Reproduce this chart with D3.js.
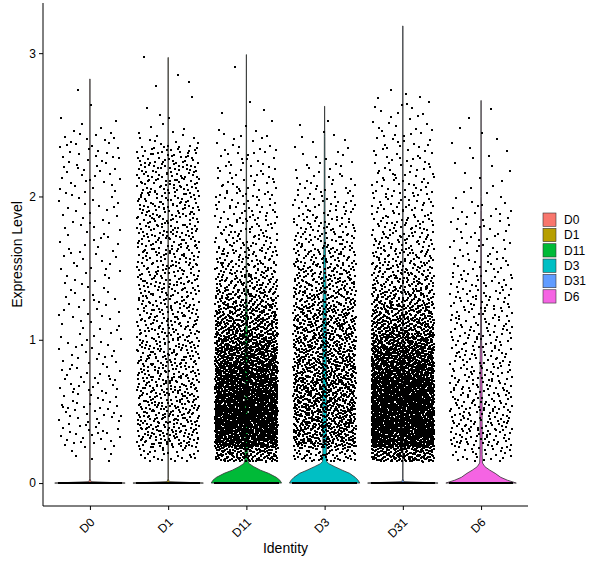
<!DOCTYPE html>
<html>
<head>
<meta charset="utf-8">
<script src="https://cdn.jsdelivr.net/npm/d3@7"></script>
<style>
  body { margin: 0; background: #fff; }
  text { font-family: "Liberation Sans", Arial, sans-serif; }
</style>
</head>
<body>
<div id="chart"></div>
<script>
// identities (clusters) in plot order
var groups = ["D0", "D1", "D11", "D3", "D31", "D6"]
var colors = ["#F8766D", "#B79F00", "#00BA38", "#00BFC4", "#619CFF", "#F564E3"]
var yTicks = [0, 1, 2, 3]

// highest expression value per identity (top of each violin)
var maxValues = [2.82, 2.97, 2.99, 2.63, 3.19, 2.67]

// cells with zero expression (they form the black band at 0)
var zeroCounts = [2500, 2500, 1500, 1200, 2500, 1500]

// counts of non-zero cells in bins of 0.1, first bin starting at 0.15
var binStart = 0.15, binWidth = 0.1
var countsD0  = [6,14,16,16,15,14,13,11,10,9,9,9,9,9,9,9,9,9,10,11,12,12,12,5,1,1,1,0,0,0,0]
var countsD1  = [28,60,65,65,62,60,57,54,51,49,47,46,46,46,46,46,46,46,45,44,42,36,12,4,2,2,2,1,2,0,0]
var countsD11 = [150,310,350,350,335,310,270,230,190,155,120,95,72,55,45,36,30,25,22,19,16,14,9,4,2,1,0,1,1,0,0]
var countsD3  = [65,140,150,150,150,145,138,130,122,110,98,85,72,62,50,40,33,26,20,15,10,7,5,3,1,0,0,0,0,0,0]
var countsD31 = [170,340,380,380,365,340,300,260,210,160,125,95,75,60,48,40,34,28,24,21,18,16,13,10,8,6,0,0,0,0,1]
var countsD6  = [24,40,42,40,37,34,32,30,29,28,27,26,23,17,14,13,12,11,6,4,4,4,3,2,1,1,0,0,0,0,0]
var binCounts = [countsD0, countsD1, countsD11, countsD3, countsD31, countsD6]

// violin half-width (share of the widest point) at given expression values
var violinD0  = [[0,1],[0.01,0.03],[0.03,0.004],[2.82,0.003]]
var violinD1  = [[0,1],[0.01,0.03],[0.03,0.004],[2.97,0.003]]
var violinD11 = [[0,1],[0.02,0.95],[0.04,0.85],[0.068,0.63],[0.09,0.4],[0.114,0.21],[0.137,0.07],[0.16,0.045],
                 [0.3,0.04],[0.6,0.045],[0.9,0.04],[1.1,0.03],[1.25,0.02],[1.4,0.01],[1.8,0.006],[2.5,0.004],[2.99,0.002]]
var violinD3  = [[0,1],[0.02,0.95],[0.04,0.87],[0.068,0.71],[0.09,0.5],[0.114,0.29],[0.135,0.12],[0.15,0.06],
                 [0.2,0.05],[0.5,0.055],[1.0,0.05],[1.3,0.04],[1.6,0.025],[1.72,0.014],[2.0,0.011],[2.42,0.008],[2.47,0.003],[2.63,0.002]]
var violinD31 = [[0,1],[0.01,0.03],[0.03,0.004],[3.19,0.003]]
var violinD6  = [[0,1],[0.02,0.75],[0.04,0.56],[0.068,0.4],[0.09,0.25],[0.114,0.11],[0.14,0.04],[0.2,0.03],
                 [0.5,0.03],[0.9,0.025],[1.0,0.014],[1.5,0.01],[1.9,0.008],[2.0,0.003],[2.67,0.002]]
var violins = [violinD0, violinD1, violinD11, violinD3, violinD31, violinD6]

var W = 600, H = 568
var panel = {left: 43, right: 528, top: 3, bottom: 506}

var svg = d3.select("#chart").append("svg")
    .attr("width", W)
    .attr("height", H)

var x = d3.scalePoint()
    .domain(groups)
    .range([panel.left, panel.right])
    .padding(0.6)
var step = x.step()

var y = d3.scaleLinear()
    .domain([-0.16, 3.35])
    .range([panel.bottom, panel.top])

var color = d3.scaleOrdinal().domain(groups).range(colors)

// violins (width 0.9 of a category step)
var halfMax = 0.45 * step
var line = d3.line()
groups.forEach(function(g, gi){
    var prof = violins[gi]
    var cx = x(g)
    var pts = []
    prof.forEach(function(p){ pts.push([cx + p[1] * halfMax, y(p[0])]) })
    prof.slice().reverse().forEach(function(p){ pts.push([cx - p[1] * halfMax, y(p[0])]) })
    svg.append("path")
        .attr("d", line(pts) + "Z")
        .attr("fill", color(g))
        .attr("stroke", "#333")
        .attr("stroke-width", 0.8)
})

// jitter layout: halton sequence (base 2 across, base 3 through the binned distribution)
function halton(i, b){
    var f = 1, r = 0
    while (i > 0) { f = f / b; r += f * (i % b); i = Math.floor(i / b) }
    return r
}
var dots = svg.append("g").attr("shape-rendering", "crispEdges")
groups.forEach(function(g, gi){
    var cx = x(g)
    var counts = binCounts[gi]
    var total = d3.sum(counts)
    var cum = d3.cumsum(counts)
    var cells = []
    for (var i = 0; i < zeroCounts[gi]; i++) {
        cells.push([cx + (halton(i + 1, 2) - 0.5) * 0.8 * step, 0])
    }
    for (var k = 1; k <= total; k++) {
        var q = halton(k + 7, 3) * total
        var b = d3.bisectRight(cum, q)
        var prev = b > 0 ? cum[b - 1] : 0
        var v = binStart + (b + (q - prev) / counts[b]) * binWidth
        v = Math.min(v, maxValues[gi])
        cells.push([cx + (halton(k + 7, 2) - 0.5) * 0.8 * step, v])
    }
    dots.selectAll(null)
        .data(cells)
        .enter().append("rect")
        .attr("x", function(d){ return d[0] - 1 })
        .attr("y", function(d){ return y(d[1]) - 1 })
        .attr("width", 2)
        .attr("height", 2)
        .attr("fill", "#000")
})

// axes
var yAxis = svg.append("g")
    .attr("transform", "translate(" + panel.left + ",0)")
    .call(d3.axisLeft(y).tickValues(yTicks).tickSize(4).tickFormat(d3.format("d")))
var xAxis = svg.append("g")
    .attr("transform", "translate(0," + panel.bottom + ")")
    .call(d3.axisBottom(x).tickSize(4))
yAxis.select(".domain").attr("d", "M0," + panel.top + "V" + panel.bottom)
xAxis.select(".domain").attr("d", "M" + panel.left + ",0H" + panel.right)
svg.selectAll(".domain").attr("stroke", "#000").attr("stroke-width", 1)
svg.selectAll(".tick line").attr("stroke", "#000")
yAxis.selectAll(".tick text")
    .attr("x", -7)
    .style("font-size", "12px")
    .attr("fill", "#000")
xAxis.selectAll(".tick text")
    .attr("y", 0)
    .attr("dy", 0)
    .attr("text-anchor", "end")
    .attr("transform", "translate(5,17) rotate(-45)")
    .style("font-size", "12px")
    .attr("fill", "#000")

svg.append("text")
    .attr("x", (panel.left + panel.right) / 2)
    .attr("y", 553)
    .attr("text-anchor", "middle")
    .style("font-size", "14px")
    .text("Identity")
svg.append("text")
    .attr("transform", "translate(22," + ((panel.top + panel.bottom) / 2) + ") rotate(-90)")
    .attr("text-anchor", "middle")
    .style("font-size", "14px")
    .text("Expression Level")

// legend
var legend = svg.append("g").attr("transform", "translate(543,213)")
groups.forEach(function(g, i){
    legend.append("rect")
        .attr("x", 0)
        .attr("y", i * 15.35)
        .attr("width", 13)
        .attr("height", 13.3)
        .attr("fill", color(g))
        .attr("stroke", "#333")
        .attr("stroke-width", 0.6)
    legend.append("text")
        .attr("x", 21)
        .attr("y", i * 15.35 + 6.7)
        .attr("dy", "0.35em")
        .style("font-size", "12px")
        .text(g)
})
</script>
</body>
</html>
